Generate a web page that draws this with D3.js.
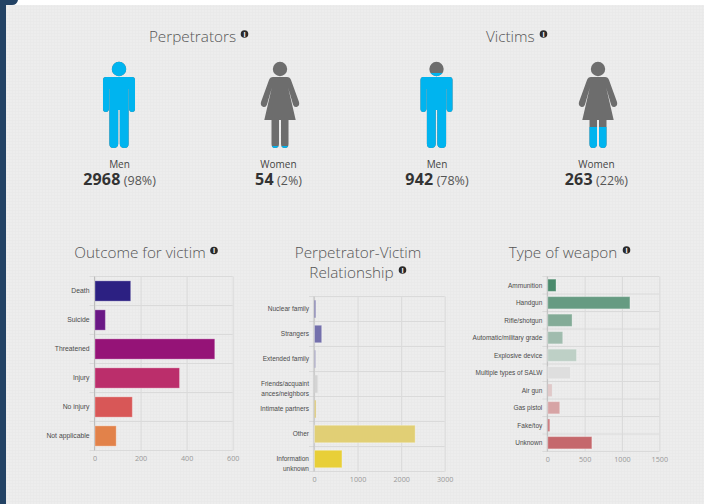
<!DOCTYPE html>
<html><head><meta charset="utf-8">
<script src="https://cdn.jsdelivr.net/npm/d3@7"></script>
<style>
html,body{margin:0;padding:0;background:#fff;overflow:hidden}
svg{display:block}
text{font-family:"Open Sans",sans-serif}
</style></head><body><svg id="c" width="704" height="504"></svg>
<script>
// --- data ---
const genderLabels = ["Men","Women","Men","Women"];
const genderCounts = [2968,54,942,263];
const genderPcts = [98,2,78,22];
const outcomeCats = ["Death","Suicide","Threatened","Injury","No injury","Not applicable"];
const outcomeVals = [155,45,520,367,162,92];
const outcomeCols = ["#2c2082","#6a1885","#951377","#bb2e6b","#d85757","#e2824a"];
const relCats = ["Nuclear family","Strangers","Extended family","Friends/acquaint\nances/neighbors","Intimate partners","Other","Information\nunknown"];
const relVals = [18,165,14,70,35,2310,630];
const relCols = ["#6f6bab","#7470ac","#a5a3c7","#d4d4d4","#e0cf8a","#e1cf75","#e8cf38"];
const weaponCats = ["Ammunition","Handgun","Rifle/shotgun","Automatic/military grade","Explosive device","Multiple types of SALW","Air gun","Gas pistol","Fake/toy","Unknown"];
const weaponVals = [110,1100,325,200,385,305,55,160,25,590];
const weaponCols = ["#4a8a6c","#669b82","#83ab97","#a0bcae","#bed0c6","#dedede","#e0c9c9","#d7a4a5","#cf8084","#c5686c"];

const svg = d3.select("#c");
const defs = svg.append("defs");
const pat = defs.append("pattern").attr("id","grid").attr("width",3).attr("height",3).attr("patternUnits","userSpaceOnUse");
pat.append("rect").attr("width",3).attr("height",3).attr("fill","#ededed");
pat.append("path").attr("d","M3 0H0V3").attr("fill","none").attr("stroke","#e8e8e8").attr("stroke-width",1);

svg.append("rect").attr("width",704).attr("height",504).attr("fill","#fff");
svg.append("rect").attr("x",6).attr("y",5).attr("width",698).attr("height",499).attr("fill","url(#grid)");
svg.append("path").attr("d","M0 0H18Q17 5 12 5H6V504H0Z").attr("fill","#224264");

function title(lines,cxs,y,size,infoX,infoY){
  const t = svg.append("text").attr("text-anchor","middle").attr("font-size",size).attr("font-weight",300).attr("fill","#555");
  lines.forEach((l,i)=>t.append("tspan").attr("x",cxs[i]).attr("y",y+i*20).text(l));
  const g = svg.append("g").attr("transform",`translate(${infoX},${infoY})`);
  g.append("circle").attr("r",3.8).attr("fill","#2a2a2a");
  g.append("text").attr("text-anchor","middle").attr("y",2.6).attr("font-size",7).attr("font-weight",700).attr("fill","#fff").text("i");
}
title(["Perpetrators"],[192.5],41.5,15.3,244.5,34);
title(["Victims"],[510.3],41.5,15.3,543.5,34);
title(["Outcome for victim"],[140],258.3,15.3,214,250.5);
title(["Perpetrator-Victim","Relationship"],[358,351.5],258.3,15.3,402.5,270);
title(["Type of weapon"],[563],258.3,15.3,626.5,250);

// --- pictograms ---
const manBody = "M-16 11Q-16 8 -13 8H13Q16 8 16 11V40Q16 43 13 43Q10.5 43 10 40V20H9.6V75Q9.6 79 5.5 79Q1 79 0.8 75V41H-0.8V75Q-1 79 -5.5 79Q-9.6 79 -9.6 75V20H-10V40Q-10.5 43 -13 43Q-16 43 -16 40Z";
const womanBody = "M-7 8H7Q10 8 11 11L19 33Q20 37 16.5 38Q14 38.5 13 35.5L8.3 19L15.7 51H8.5V75Q8.5 79 5 79Q1 79 1 75V51H-1V75Q-1 79 -5 79Q-8.5 79 -8.5 75V51H-15.7L-8.3 19L-13 35.5Q-14 38.5 -16.5 38Q-20 37 -19 33L-11 11Q-10 8 -7 8Z";
const fillY = d3.scaleLinear().domain([0,100]).range([148,52]);
const iconX = [119,280,436.5,598];
const labelX = [119.5,278.5,437,596.4];
genderLabels.forEach((lab,i)=>{
  const man = lab==="Men", cx = iconX[i], pct = genderPcts[i];
  const id = "clip"+i;
  defs.append("clipPath").attr("id",id).append("rect").attr("x",cx-30).attr("width",60).attr("y",fillY(pct)).attr("height",148-fillY(pct)+2);
  const draw = (col,clip)=>{
    const g = svg.append("g").attr("fill",col);
    if(clip) g.attr("clip-path",`url(#${id})`);
    const gi = g.append("g").attr("transform",`translate(${cx},69)`);
    gi.append("circle").attr("r",7.2);
    gi.append("path").attr("d",man?manBody:womanBody);
  };
  draw("#6d6d6d",false);
  draw("#00b4ef",true);
  svg.append("text").attr("x",labelX[i]).attr("y",167.5).attr("text-anchor","middle").attr("font-size",10).attr("fill","#444").text(lab);
  const t = svg.append("text").attr("x",labelX[i]).attr("y",185.3).attr("text-anchor","middle");
  t.append("tspan").attr("font-size",16).attr("font-weight",700).attr("letter-spacing",0.2).attr("fill","#333").text(genderCounts[i]);
  t.append("tspan").attr("font-size",12.5).attr("fill","#555").text(" ("+pct+"%)");
});

// --- bar charts ---
function bars(cats,vals,cols,box,maxV,ticks,size){
  const x = d3.scaleLinear().domain([0,maxV]).range([box.x0,box.x1]);
  const y = d3.scaleBand().domain(cats).range([box.y0,box.y1]).paddingInner(0.3).paddingOuter(0.15);
  const g = svg.append("g");
  const step = y.step();
  const gx = g.append("g").attr("transform",`translate(0,${box.y1})`)
    .call(d3.axisBottom(x).tickValues(ticks).tickFormat(d3.format("d")));
  gx.select(".domain").remove();
  gx.selectAll("line").attr("y2",-(box.y1-box.y0)).attr("stroke","#dadada");
  gx.selectAll("text").attr("y",10).attr("dy",0).attr("font-size",7.2).attr("fill","#999")
    .style("font-family",'"Open Sans",sans-serif');
  const bounds = d3.range(cats.length+1).map(i=>box.y0+i*step);
  g.append("g").selectAll("line").data(bounds).join("line")
    .attr("x1",box.x0-5).attr("x2",box.x1).attr("y1",d=>d).attr("y2",d=>d).attr("stroke","#dadada");
  g.append("line").attr("x1",box.x0).attr("x2",box.x0).attr("y1",box.y0).attr("y2",box.y1).attr("stroke","#bdbdbd");
  g.append("g").selectAll("rect").data(cats).join("rect")
    .attr("x",x(0)+0.5).attr("y",d=>y(d)).attr("height",y.bandwidth())
    .attr("width",(d,i)=>Math.max(1,x(vals[i])-x(0)))
    .attr("fill",(d,i)=>cols[i])
    .attr("stroke",(d,i)=>x(vals[i])-x(0)<6?"none":"rgba(255,255,255,0.3)");
  g.append("g").selectAll("text").data(cats).join("text")
    .attr("text-anchor","end").attr("font-size",size).attr("fill","#4a4a4a")
    .style("font-family",'"Liberation Sans",Arial,sans-serif')
    .each(function(d){
      const lines = d.split("\n"), c = y(d)+y.bandwidth()/2, el = d3.select(this);
      lines.forEach((l,i)=>el.append("tspan").attr("x",box.x0-5).attr("y",c+size*0.35+i*10).text(l));
    });
}
bars(outcomeCats,outcomeVals,outcomeCols,{x0:94.5,x1:232.7,y0:276.5,y1:450.5},600,[0,200,400,600],6.8);
bars(relCats,relVals,relCols,{x0:314,x1:444.7,y0:296.5,y1:471.5},3000,[0,1000,2000,3000],6.5);
bars(weaponCats,weaponVals,weaponCols,{x0:547.3,x1:659.3,y0:276.5,y1:451.5},1500,[0,500,1000,1500],6.5);
</script></body></html>
